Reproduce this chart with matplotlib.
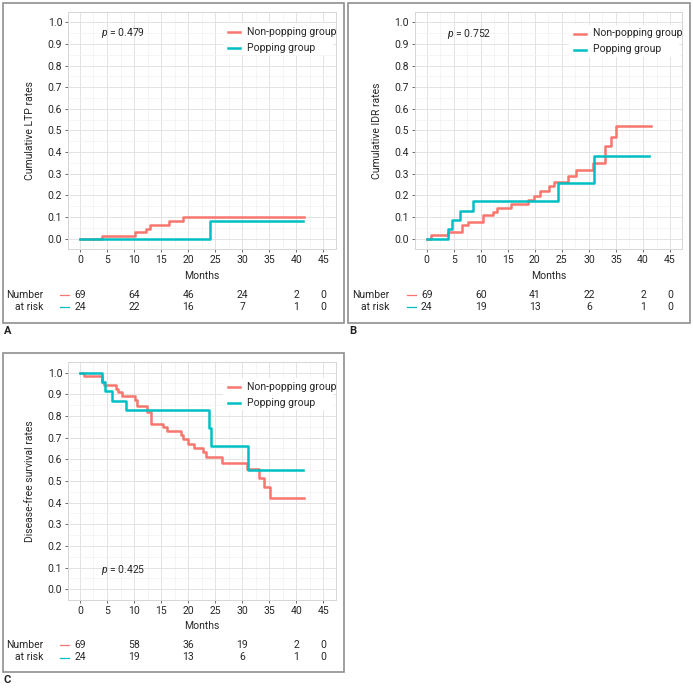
import matplotlib
matplotlib.use("Agg")
import matplotlib.pyplot as plt
from matplotlib.lines import Line2D
from matplotlib.patches import Rectangle
from matplotlib.ticker import MultipleLocator, FormatStrFormatter

plt.rcParams['font.family'] = ['Roboto', 'DejaVu Sans']
plt.rcParams['font.size'] = 7.5
plt.rcParams['mathtext.fontset'] = 'custom'
plt.rcParams['mathtext.it'] = 'Roboto:italic'
plt.rcParams['mathtext.rm'] = 'Roboto'

RED = '#F8766D'
TEAL = '#00BFC4'
TXT = '#262626'

# ---- data ----
# A: cumulative LTP
a_np_t = [0, 4.0, 10.2, 12.2, 13.0, 16.4, 19.0, 41.5]
a_np_v = [0, 0.014, 0.029, 0.044, 0.061, 0.081, 0.101, 0.101]
a_p_t = [0, 24.0, 41.2]
a_p_v = [0, 0.083, 0.083]

# B: cumulative IDR
b_np_t = [0, 0.8, 4.0, 6.5, 7.6, 10.5, 12.3, 13.0, 15.6, 18.7, 19.9, 21.0,
          22.7, 23.5, 26.1, 27.7, 30.7, 33.0, 34.0, 35.0, 41.5]
b_np_v = [0, 0.015, 0.029, 0.061, 0.077, 0.108, 0.123, 0.141, 0.159, 0.177,
          0.198, 0.220, 0.242, 0.264, 0.290, 0.318, 0.348, 0.428, 0.472,
          0.519, 0.519]
b_p_t = [0, 3.9, 4.6, 6.2, 8.5, 24.2, 30.9, 41.2]
b_p_v = [0, 0.043, 0.087, 0.130, 0.174, 0.258, 0.381, 0.381]

# C: disease-free survival
c_np_t = [0, 0.8, 4.1, 4.5, 6.6, 7.0, 7.7, 10.2, 10.6, 12.4, 13.1, 15.3, 16.1,
          18.6, 19.1, 19.9, 21.0, 22.7, 23.3, 26.2, 30.8, 33.1, 34.1, 35.1, 41.5]
c_np_v = [1, 0.985, 0.956, 0.941, 0.926, 0.911, 0.894, 0.874, 0.847, 0.816,
          0.765, 0.749, 0.731, 0.714, 0.693, 0.672, 0.653, 0.633, 0.612,
          0.585, 0.555, 0.514, 0.472, 0.423, 0.423]
c_p_t = [0, 4.1, 4.6, 6.0, 8.5, 23.9, 24.3, 31.0, 41.2]
c_p_v = [1, 0.958, 0.913, 0.870, 0.826, 0.744, 0.661, 0.551, 0.551]

risk_times = [0, 10, 20, 30, 40, 45]
a_risk_np = [69, 64, 46, 24, 2, 0]
a_risk_p = [24, 22, 16, 7, 1, 0]
b_risk_np = [69, 60, 41, 22, 2, 0]
b_risk_p = [24, 19, 13, 6, 1, 0]
c_risk_np = [69, 58, 36, 19, 2, 0]
c_risk_p = [24, 19, 13, 6, 1, 0]

labels = ['Non-popping group', 'Popping group']

W, H = 693, 688
fig = plt.figure(figsize=(W / 100, H / 100), dpi=100)


def fx(x):
    return x / W


def fy(y):
    return 1 - y / H


def panel(box, frame, letter, ylabel, np_t, np_v, p_t, p_v, pval, ppos,
          legpos, risk_np, risk_p, rows, months_y):
    left, top, right, bottom = box
    ax = fig.add_axes([fx(left), fy(bottom), (right - left) / W, (bottom - top) / H])
    ax.set_xlim(-2.25, 47.25)
    ax.set_ylim(-0.05, 1.05)
    ax.xaxis.set_major_locator(MultipleLocator(5))
    ax.xaxis.set_minor_locator(MultipleLocator(2.5))
    ax.yaxis.set_major_locator(MultipleLocator(0.1))
    ax.yaxis.set_minor_locator(MultipleLocator(0.05))
    ax.yaxis.set_major_formatter(FormatStrFormatter('%.1f'))
    ax.grid(which='major', color='#E3E3E3', lw=0.7)
    ax.grid(which='minor', color='#F2F2F2', lw=0.5)
    ax.set_axisbelow(True)
    ax.tick_params(which='major', length=2.5, width=0.6, color='#555555',
                   labelcolor=TXT, pad=1.5)
    ax.tick_params(which='minor', length=0)
    for s in ax.spines.values():
        s.set_color('#D6D6D6')
        s.set_linewidth(0.7)
    ax.step(np_t, np_v, where='post', color=RED, lw=1.8)
    ax.step(p_t, p_v, where='post', color=TEAL, lw=1.8)

    # y label, placed per panel
    fig.text(fx(left - 37.5), fy((top + bottom) / 2), ylabel, rotation=90,
             ha='center', va='center', color=TXT)

    fig.text(fx(ppos[0]), fy(ppos[1]), '$p$ = ' + pval, ha='left', va='center', color=TXT)

    # legend
    lx, ly = legpos
    fig.add_artist(Rectangle((fx(lx - 5), fy(ly + 23)), 110 / W, 32 / H,
                             transform=fig.transFigure, facecolor='white',
                             edgecolor='none', zorder=3))
    for i, (lab, col) in enumerate(zip(labels, [RED, TEAL])):
        yy = ly + i * 16
        fig.add_artist(Line2D([fx(lx), fx(lx + 12)], [fy(yy), fy(yy)],
                              transform=fig.transFigure, color=col, lw=1.8, zorder=4))
        fig.text(fx(lx + 19), fy(yy), lab, ha='left', va='center', color=TXT, zorder=5)

    # months label
    fig.text(fx((left + right) / 2), fy(months_y), 'Months', ha='center', va='center', color=TXT)

    # risk table
    x0 = ax.transData.transform((0, 0))[0]
    fig.text(fx(x0 - 37), fy(rows[0]), 'Number', ha='right', va='center', color=TXT)
    fig.text(fx(x0 - 37), fy(rows[1]), 'at risk', ha='right', va='center', color=TXT)
    for r, vals, col in zip(rows, [risk_np, risk_p], [RED, TEAL]):
        fig.add_artist(Line2D([fx(x0 - 20), fx(x0 - 11)], [fy(r), fy(r)],
                              transform=fig.transFigure, color=col, lw=0.9))
        for t, v in zip(risk_times, vals):
            xp = ax.transData.transform((t, 0))[0]
            fig.text(fx(xp), fy(r), str(v), ha='center', va='center', color=TXT)

    fl, ft, fr, fb = frame
    fig.add_artist(Rectangle((fx(fl), fy(fb)), (fr - fl) / W, (fb - ft) / H,
                             transform=fig.transFigure, fill=False,
                             edgecolor='#8F8F8F', lw=1.2))
    fig.text(fx(fl + 1), fy(fb + 8), letter, ha='left', va='center',
             fontweight='bold', fontsize=8, color='#222222')
    return ax


panel((67.8, 11.5, 335.5, 249.5), (3, 3, 343.5, 322.5), 'A',
      'Cumulative LTP rates', a_np_t, a_np_v, a_p_t, a_p_v, '0.479',
      (101, 33), (228, 32), a_risk_np, a_risk_p, (295.3, 307), 276)
panel((414.5, 11.5, 682.2, 249.5), (348, 3, 689.5, 322.5), 'B',
      'Cumulative IDR rates', b_np_t, b_np_v, b_p_t, b_p_v, '0.752',
      (447, 34), (574, 33.5), b_risk_np, b_risk_p, (295.3, 307), 276)
panel((67.8, 361.8, 335.5, 600.1), (3, 352.7, 343.5, 672.3), 'C',
      'Disease-free survival rates', c_np_t, c_np_v, c_p_t, c_p_v, '0.425',
      (101, 570), (228, 386.7), c_risk_np, c_risk_p, (645, 657.5), 626)

fig.savefig('out.png', dpi=100)
